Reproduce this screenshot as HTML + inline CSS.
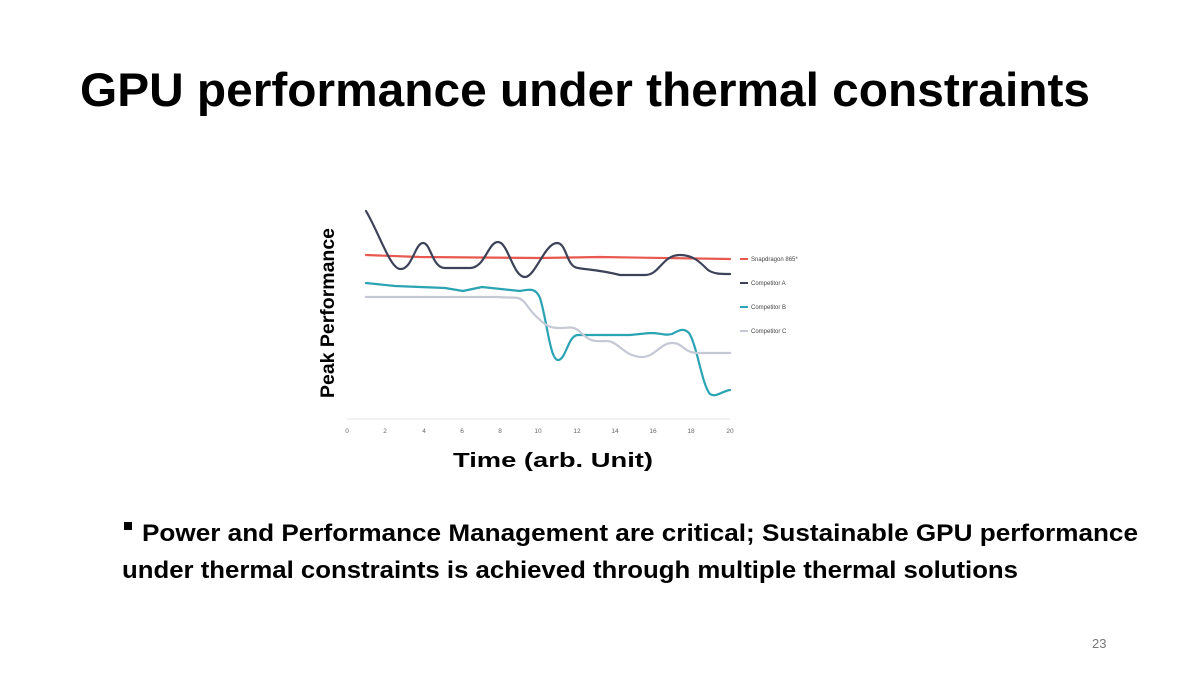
<!DOCTYPE html>
<html><head><meta charset="utf-8"><style>
html,body{margin:0;padding:0;background:#fff;}
svg{display:block;}
</style></head><body>
<svg width="1200" height="675" viewBox="0 0 1200 675" xmlns="http://www.w3.org/2000/svg" font-family="Liberation Sans, sans-serif">
<rect width="1200" height="675" fill="#fff"/>
<text x="80" y="106" font-size="47" font-weight="bold" fill="#000" textLength="1010" lengthAdjust="spacingAndGlyphs">GPU performance under thermal constraints</text>

<line x1="347" y1="419" x2="730" y2="419" stroke="#eceef2" stroke-width="1.5"/>
<g font-size="6.5" fill="#666" text-anchor="middle">
<text x="347" y="433">0</text><text x="385" y="433">2</text><text x="424" y="433">4</text><text x="462" y="433">6</text><text x="500" y="433">8</text><text x="538" y="433">10</text><text x="577" y="433">12</text><text x="615" y="433">14</text><text x="653" y="433">16</text><text x="691" y="433">18</text><text x="730" y="433">20</text>
</g>
<g fill="none" stroke-width="2.2" stroke-linejoin="round" stroke-linecap="round">
<path d="M366,255 L420,257 L540,258 L600,257 L730,259" stroke="#e8584f"/>
<path d="M366,211 C380,235 390,268 400,269 C412,270 415,243 423,243 C431,243 432,268 445,268 L470,268 C485,268 488,242 498,242 C508,242 513,277 525,277 C535,277 545,243 557,243 C567,243 566,267 578,268 C590,270 600,270 620,275 L645,275 C660,275 662,255 680,255 C693,255 700,262 708,270 C714,274 720,274 730,274" stroke="#3d4258"/>
<path d="M366,283 L395,286 L420,287 L445,288 L463,291 L482,287 L520,291 C530,289 536,288 540,298 C547,320 550,360 558,360 C566,360 568,335 578,335 L630,335 L650,333 C662,333 665,336 672,334 C678,331 683,327 689,333 C697,345 702,385 710,394 C716,398 722,391 730,390" stroke="#2aa3b3"/>
<path d="M366,297 L498,297 C508,298 512,297 518,298 C526,300 528,310 538,318 C546,326 550,328 560,328 C570,328 572,326 578,330 C588,340 592,342 605,341 C618,340 622,355 640,357 C655,358 660,343 672,343 C684,343 682,352 697,353 L730,353" stroke="#c5c8d5"/>
</g>
<g stroke-width="2">
<line x1="740" y1="259" x2="748" y2="259" stroke="#e8584f"/>
<line x1="740" y1="283" x2="748" y2="283" stroke="#3d4258"/>
<line x1="740" y1="307" x2="748" y2="307" stroke="#2aa3b3"/>
<line x1="740" y1="331" x2="748" y2="331" stroke="#c5c8d5"/>
</g>
<g font-size="6" fill="#444">
<text x="751" y="261">Snapdragon 865*</text>
<text x="751" y="285">Competitor A</text>
<text x="751" y="309">Competitor B</text>
<text x="751" y="333">Competitor C</text>
</g>
<text transform="translate(334,398) rotate(-90)" font-size="19" font-weight="bold" fill="#000" textLength="170" lengthAdjust="spacingAndGlyphs">Peak Performance</text>
<text x="453" y="467" font-size="20" font-weight="bold" fill="#000" textLength="200" lengthAdjust="spacingAndGlyphs">Time (arb. Unit)</text>

<rect x="124" y="522" width="8" height="8" fill="#000"/>
<text x="142" y="541" font-size="24" font-weight="bold" fill="#000" textLength="996" lengthAdjust="spacingAndGlyphs">Power and Performance Management are critical; Sustainable GPU performance</text>
<text x="122" y="578" font-size="24" font-weight="bold" fill="#000" textLength="896" lengthAdjust="spacingAndGlyphs">under thermal constraints is achieved through multiple thermal solutions</text>
<text x="1092" y="648" font-size="13" fill="#777">23</text>
</svg>
</body></html>
